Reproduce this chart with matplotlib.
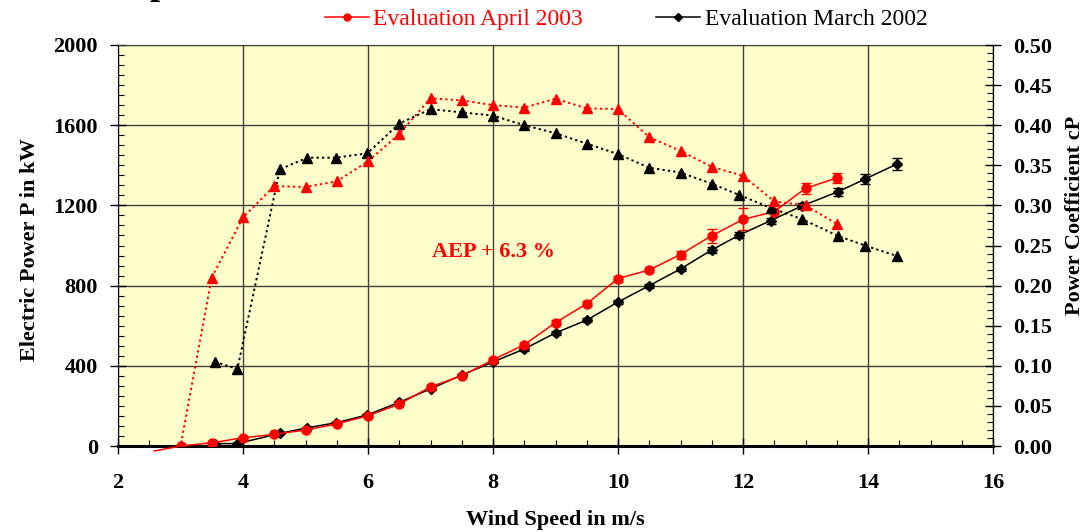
import matplotlib
matplotlib.use("Agg")
import matplotlib.pyplot as plt
from matplotlib.ticker import MultipleLocator, FormatStrFormatter

plt.rcParams['font.family'] = ['Liberation Serif', 'DejaVu Serif']

# Evaluation April 2003 (red)
ws_2003 = [2.58, 3.0, 3.5, 4.0, 4.5, 5.0, 5.5, 6.0, 6.5, 7.0, 7.5, 8.0, 8.5, 9.0,
           9.5, 10.0, 10.5, 11.0, 11.5, 12.0, 12.5, 13.0, 13.5]
power_2003 = [-25, 0, 16, 41, 58, 80, 110, 151, 209, 295, 350, 430, 505, 615,
              710, 835, 878, 955, 1049, 1130, 1169, 1285, 1337]
err_2003 = [0, 2, 3, 4, 5, 5, 5, 6, 7, 8, 8, 8, 10, 12,
            12, 15, 12, 20, 35, 55, 10, 28, 26]
cp_2003 = [-0.03, 0.0, 0.210, 0.285, 0.324, 0.323, 0.330, 0.355, 0.389, 0.4335, 0.431, 0.425,
           0.422, 0.433, 0.421, 0.420, 0.385, 0.368, 0.348, 0.337, 0.305, 0.300, 0.277]

# Evaluation March 2002 (black)
ws_2002 = [3.55, 3.91, 4.59, 5.03, 5.49, 5.99, 6.5, 7.0, 7.5, 8.0, 8.5, 9.0,
           9.5, 10.0, 10.5, 11.0, 11.5, 11.94, 12.44, 12.94, 13.52, 13.95, 14.46]
power_2002 = [12, 12, 63, 91, 116, 155, 218, 285, 354, 419, 484, 564,
              628, 718, 800, 883, 978, 1052, 1124, 1197, 1268, 1331, 1406]
err_2002 = [3, 3, 4, 4, 5, 5, 6, 6, 7, 7, 8, 9,
            9, 10, 10, 12, 14, 15, 15, 17, 20, 24, 30]
cp_2002 = [0.105, 0.096, 0.345, 0.3595, 0.3595, 0.365, 0.402, 0.420, 0.416, 0.412, 0.400, 0.390,
           0.377, 0.364, 0.347, 0.341, 0.327, 0.313, 0.297, 0.283, 0.262, 0.250, 0.237]

RED = '#ff0000'
GRID = '#404040'
DOTS = (0, (1.2, 1.6))

fig = plt.figure(figsize=(10.89, 5.32), dpi=100)
ax = fig.add_axes([118 / 1089, 86 / 532, 875 / 1089, 401 / 532])
ax.set_facecolor('#ffffcc')
ax2 = ax.twinx()

# power curves
ax.plot(ws_2002, power_2002, color='black', lw=1.1, zorder=3)
ax.errorbar(ws_2002, power_2002, yerr=err_2002, fmt='D', color='black', ms=5,
            capsize=3.5, elinewidth=1, capthick=1, zorder=3)
ax.plot(ws_2003, power_2003, color=RED, lw=1.1, zorder=4, clip_on=False)
ax.errorbar(ws_2003[1:], power_2003[1:], yerr=err_2003[1:], fmt='o', color=RED, ms=6.5,
            capsize=3.5, elinewidth=1, capthick=1, zorder=4)

# power coefficient
ax2.plot(ws_2002, cp_2002, color='black', lw=1.4, ls=DOTS, marker='^', ms=6.5)
ax2.plot(ws_2003, cp_2003, color=RED, lw=1.4, ls=DOTS, marker='^', ms=6.5)

ax.set_xlim(2, 16)
ax.set_ylim(0, 2000)
ax2.set_ylim(0, 0.5)

ax.xaxis.set_major_locator(MultipleLocator(2))
ax.xaxis.set_minor_locator(MultipleLocator(0.5))
ax.yaxis.set_major_locator(MultipleLocator(400))
ax.yaxis.set_minor_locator(MultipleLocator(50))
ax2.yaxis.set_major_locator(MultipleLocator(0.05))
ax2.yaxis.set_minor_locator(MultipleLocator(0.01))
ax2.yaxis.set_major_formatter(FormatStrFormatter('%.2f'))

ax.grid(True, which='major', color=GRID, lw=1)
ax.set_axisbelow(True)

ax.tick_params(axis='x', which='major', direction='inout', length=11, width=1, pad=14,
               labelsize=16)
ax.tick_params(axis='x', which='minor', direction='in', length=4.5, width=0.8)
ax.tick_params(axis='y', which='major', direction='inout', length=11, width=1, pad=9,
               labelsize=16)
ax.tick_params(axis='y', which='minor', direction='in', length=4.5, width=0.8)
ax2.tick_params(axis='y', which='major', direction='inout', length=11, width=1, pad=9,
                labelsize=16)
ax2.tick_params(axis='y', which='minor', direction='in', length=4.5, width=0.8)
for lab in ax.get_xticklabels() + ax.get_yticklabels() + ax2.get_yticklabels():
    lab.set_fontweight('bold')

ax.spines['bottom'].set_linewidth(2.2)
ax.spines['top'].set_color(GRID)
ax2.spines['top'].set_color(GRID)
for s in ['bottom', 'left', 'top', 'right']:
    ax2.spines[s].set_visible(s == 'right')

fig.text(30 / 1089, 1 - 250 / 532, 'Electric Power P in kW', rotation=90, ha='center',
         va='center', fontsize=16, fontweight='bold')
fig.text(1075 / 1089, 1 - 215 / 532, 'Power Coefficient cP', rotation=90, ha='center',
         va='center', fontsize=16, fontweight='bold')
fig.text(555 / 1089, 1 - 520 / 532, 'Wind Speed in m/s', ha='center', va='center',
         fontsize=16, fontweight='bold')
ax.text(8.0, 970, 'AEP + 6.3 %', color=RED, ha='center', va='center',
        fontsize=16, fontweight='bold')

# heading that is cut off at the very top of the picture
fig.text(-13 / 1089, 1 + 6 / 532, 'Measured power curve', ha='left', va='baseline',
         fontsize=26, fontweight='bold')

h1, = ax.plot([], [], color=RED, marker='o', ms=5, lw=1.1)
h2, = ax.plot([], [], color='black', marker='D', ms=4, lw=1.1)
leg = fig.legend([h1, h2], ['Evaluation April 2003', 'Evaluation March 2002'],
                 loc='center left', bbox_to_anchor=(325 / 1089, 1 - 19 / 532), ncol=2,
                 frameon=False, fontsize=17, handlelength=1.85, handletextpad=0.2,
                 columnspacing=3.1, borderpad=0, borderaxespad=0)
leg.get_texts()[0].set_color(RED)

fig.savefig('out.png', dpi=100)
